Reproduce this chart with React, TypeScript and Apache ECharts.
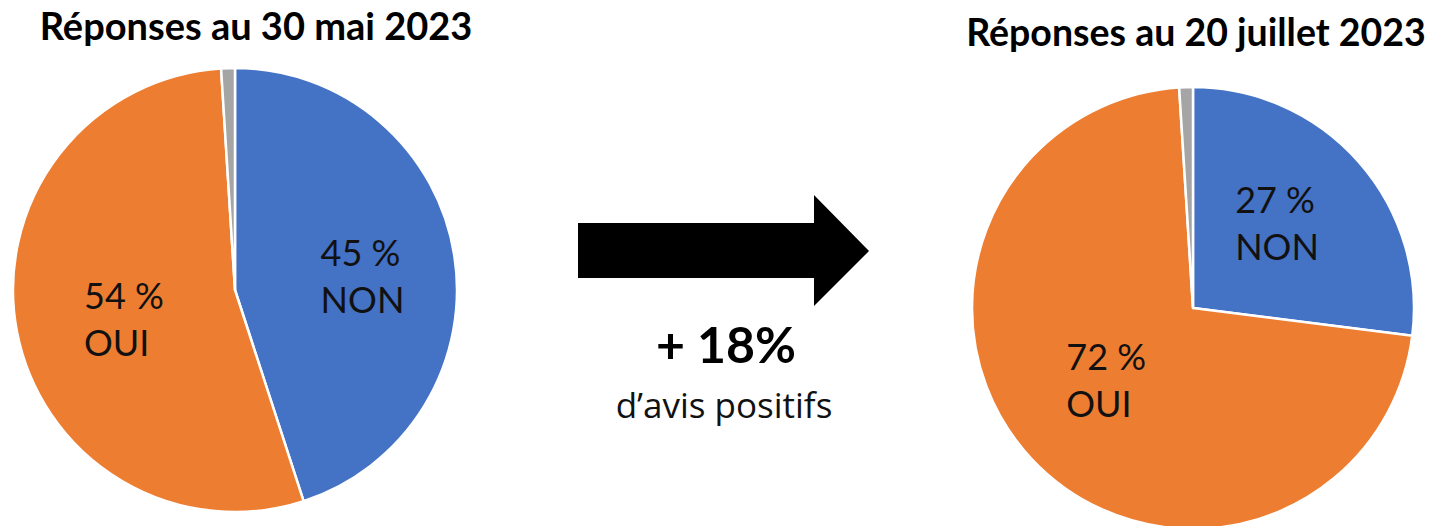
import React, { useEffect, useRef } from "react";
import * as echarts from "echarts";

const categories = ["NON", "OUI", "Sans réponse"];
const mayValues = [45, 54, 1];
const julyValues = [27, 72, 1];
const colors = ["#4472C4", "#ED7D31", "#A5A5A5"];
const titles = ["Réponses au 30 mai 2023", "Réponses au 20 juillet 2023"];
const deltaText = "+ 18%";
const deltaSub = "d’avis positifs";

const FONT = "Lato, 'Open Sans', sans-serif";

function makeSeries(
  values: number[],
  center: [number, number],
  radius: number,
  offsets: [number, number][]
) {
  return {
    type: "pie",
    center,
    radius,
    startAngle: 90,
    clockwise: true,
    silent: true,
    itemStyle: { borderColor: "#ffffff", borderWidth: 2.5 },
    label: {
      show: true,
      position: "inside",
      fontFamily: FONT,
      formatter: (p: any) => `{a|${p.value} %}\n{a|${p.name}}`,
      rich: {
        a: {
          fontFamily: FONT,
          fontSize: 36,
          color: "#111111",
          lineHeight: 47,
          width: 78,
          align: "left",
        },
      },
    },
    labelLine: { show: false },
    data: values.map((v, i) => ({
      name: categories[i],
      value: v,
      itemStyle: { color: colors[i] },
      label: { show: i < 2, offset: offsets[i] },
    })),
  };
}

export default function App() {
  const ref = useRef<HTMLDivElement>(null);
  useEffect(() => {
    if (!ref.current) return;
    const chart = echarts.init(ref.current, undefined, { renderer: "svg" });
    chart.setOption({
      animation: false,
      backgroundColor: "#ffffff",
      series: [
        makeSeries(mayValues, [235, 290], 222, [[12, 3], [0, 7], [0, 0]]),
        makeSeries(julyValues, [1193, 308], 221, [[-4, -10], [-5, -6], [0, 0]]),
      ],
      graphic: [
        {
          type: "text",
          x: 256,
          y: 25,
          style: {
            text: titles[0],
            fontFamily: FONT,
            fontWeight: "bold",
            fontSize: 38,
            fill: "#000000",
            align: "center",
            verticalAlign: "middle",
          },
        },
        {
          type: "text",
          x: 1196,
          y: 31,
          style: {
            text: titles[1],
            fontFamily: FONT,
            fontWeight: "bold",
            fontSize: 37.5,
            fill: "#000000",
            align: "center",
            verticalAlign: "middle",
          },
        },
        {
          type: "polygon",
          shape: {
            points: [
              [578, 223],
              [814, 223],
              [814, 195],
              [869, 251],
              [814, 306],
              [814, 278],
              [578, 278],
            ],
          },
          style: { fill: "#000000" },
        },
        {
          type: "text",
          x: 726,
          y: 344,
          style: {
            text: deltaText,
            fontFamily: FONT,
            fontWeight: "bold",
            fontSize: 50,
            fill: "#000000",
            align: "center",
            verticalAlign: "middle",
          },
        },
        {
          type: "text",
          x: 724,
          y: 404,
          style: {
            text: deltaSub,
            fontFamily: "'Open Sans', sans-serif",
            fontSize: 35,
            fill: "#111111",
            align: "center",
            verticalAlign: "middle",
          },
        },
      ],
    });
    return () => chart.dispose();
  }, []);
  return (
    <div
      ref={ref}
      style={{ position: "fixed", left: 0, top: 0, width: 1434, height: 526 }}
    />
  );
}
